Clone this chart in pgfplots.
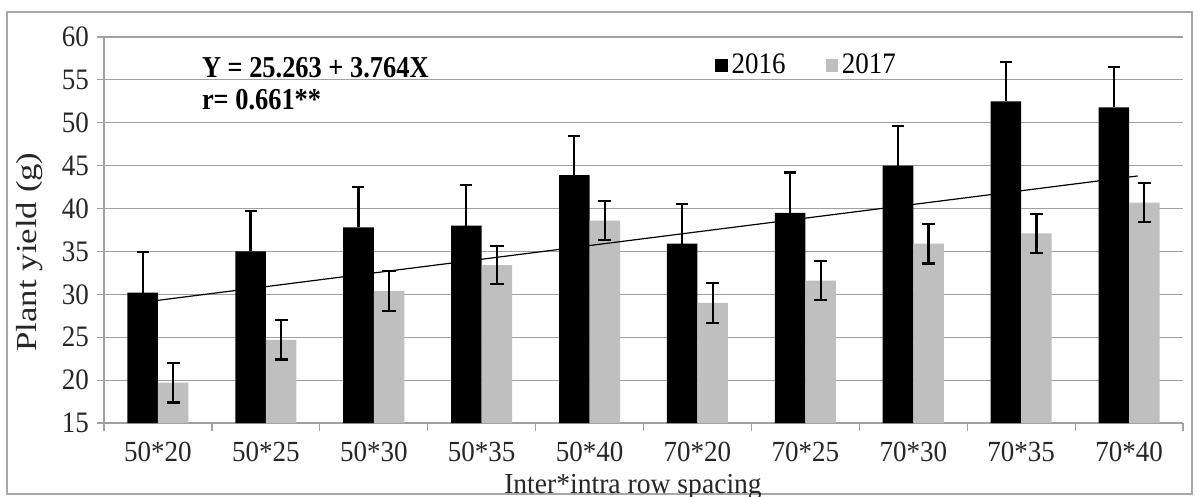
\documentclass[border=0pt]{standalone}
\usepackage{pgfplots}
\pgfplotsset{compat=1.18}
\usepackage{graphicx}
\usepackage{fontspec}
\setmainfont{Liberation Serif}
\definecolor{bargray}{HTML}{BFBFBF}
\definecolor{gridgray}{HTML}{A0A0A0}
\definecolor{framegray}{HTML}{A8A8A8}
\begin{document}
\begin{tikzpicture}
\path[use as bounding box] (-52bp,-37bp) rectangle (547bp,211.5bp);
\draw[framegray, line width=0.6bp] (-48.5bp,-35.5bp) rectangle (544bp,205.5bp);
\begin{axis}[
  at={(0,0)}, anchor=south west,
  width=539.5bp, height=193bp, scale only axis,
  xmin=-0.5, xmax=9.5, ymin=15, ymax=60,
  ytick distance=5,
  xtick={0,...,9},
  xticklabels={50*20,50*25,50*30,50*35,50*40,70*20,70*25,70*30,70*35,70*40},
  minor xtick={-0.5,0.5,...,9.5},
  major x tick style={draw=none},
  minor x tick style={gridgray, line width=0.6bp},
  minor tick length=4bp,
  major tick length=3.5bp,
  tick align=outside,
  ytick style={gridgray, line width=0.6bp},
  ymajorgrids,
  grid style={gridgray, line width=0.6bp},
  axis x line*=bottom, axis y line*=left,
  axis line style={gridgray, line width=0.6bp},
  /pgf/number format/assume math mode=true,
  tick label style={font=\fontsize{13.5bp}{15bp}\selectfont, text=black!85},
  xticklabel style={yshift=-4bp, yscale=1.08, inner sep=1.5bp},
  yticklabel style={xshift=-0.5bp, yscale=1.1},
  bar width=0.283,
  legend style={draw=none, fill=none, at={(rel axis cs:0.566,0.927)}, anchor=west,
    legend columns=2, inner sep=0pt, font=\fontsize{13.5bp}{15bp}\selectfont,
    /tikz/every even column/.append style={column sep=18bp},
    nodes={inner sep=2bp, yscale=1.1}},
  legend image code/.code={\fill[#1] (0bp,-3.2bp) rectangle (6.2bp,3.2bp);},
  clip=false,
]
\addplot[ybar, bar shift=0, fill=black, draw=none,
  error bars/.cd, y dir=plus, y explicit,
  error bar style={black, line width=1.1bp},
  error mark options={rotate=90, mark size=3bp, line width=1.1bp, black}]
  table[x expr=\thisrow{x}-0.1415, y=y, y error=e] {
x y e
0 30.2 4.7
1 35.0 4.7
2 37.8 4.7
3 38.0 4.7
4 43.9 4.6
5 35.9 4.6
6 39.5 4.7
7 45.0 4.6
8 52.5 4.6
9 51.8 4.7
};
\addlegendentry{2016}
\addplot[ybar, bar shift=0, fill=bargray, draw=none,
  error bars/.cd, y dir=both, y explicit,
  error bar style={black, line width=1.1bp},
  error mark options={rotate=90, mark size=3.3bp, line width=1.1bp, black}]
  table[x expr=\thisrow{x}+0.1415, y=y, y error=e] {
x y e
0 19.7 2.3
1 24.7 2.3
2 30.4 2.3
3 33.4 2.2
4 38.6 2.3
5 29.0 2.3
6 31.6 2.3
7 35.9 2.3
8 37.1 2.3
9 40.7 2.3
};
\addlegendentry{2017}
\addplot[black, line width=0.6bp, forget plot] coordinates {(0,29.3) (9.08,43.8)};
\node[anchor=base west, yscale=1.15, font=\bfseries\fontsize{13.2bp}{15bp}\selectfont] at (rel axis cs:0.0843,0.894) {Y = 25.263 + 3.764X};
\node[anchor=base west, yscale=1.15, font=\bfseries\fontsize{13.2bp}{15bp}\selectfont] at (rel axis cs:0.0843,0.811) {r= 0.661**};
\end{axis}
\node[rotate=90, font=\fontsize{14.5bp}{16bp}\selectfont, text=black!85] at (-37bp,85.5bp) {\scalebox{1.2}[1]{Plant yield (g)}};
\node[anchor=base, yscale=1.05, inner sep=1bp, font=\fontsize{13.8bp}{16bp}\selectfont, text=black!85] at (264.5bp,-35.3bp) {Inter*intra row spacing};
\end{tikzpicture}
\end{document}
